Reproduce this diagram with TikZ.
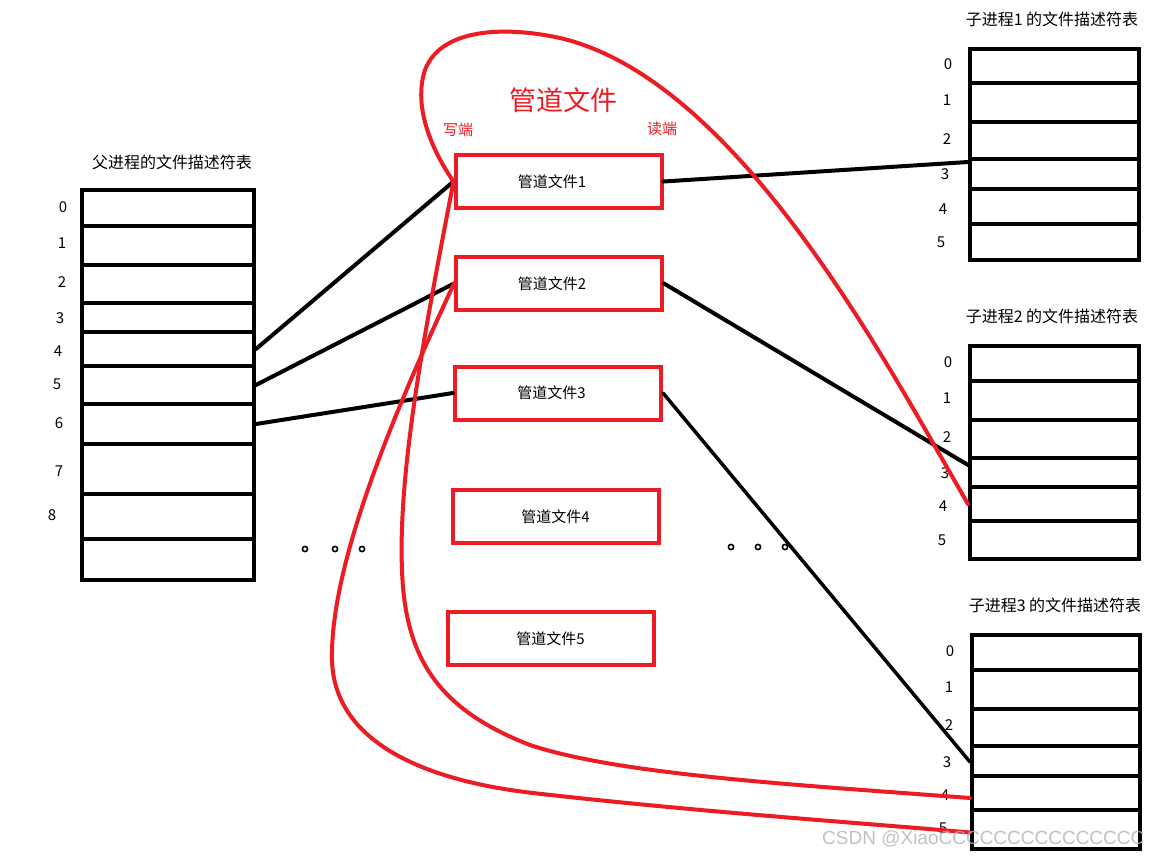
\documentclass[tikz,border=0pt]{standalone}
\usepackage{fontspec}
\newfontfamily\cjk{Noto Sans CJK SC}
\definecolor{pred}{HTML}{ED1C24}
\newcommand\fdrow[5]{\node[cell, minimum width=#5, minimum height=#4-#3] (#1) at (#2,#3) {};}
\begin{document}
\begin{tikzpicture}[x=1pt,y=-1pt,
  cell/.style={draw=black, line width=4pt, inner sep=0pt, anchor=north west},
  pipebox/.style={draw=pred, line width=4pt, minimum width=206pt, minimum height=53pt, inner sep=0pt, font=\cjk\fontsize{15}{18}\selectfont},
  numlbl/.style={font=\cjk\fontsize{15}{18}\selectfont, inner sep=0pt},
  ttl/.style={font=\cjk\fontsize{16}{19}\selectfont, inner sep=0pt},
  redlbl/.style={font=\cjk\fontsize{15}{18}\selectfont, inner sep=0pt, text=pred},
  wire/.style={line width=4pt, black, line cap=round},
  redwire/.style={line width=4pt, pred, line cap=round},
  dotmark/.style={draw=black, line width=1.6pt}]
\useasboundingbox (0,0) rectangle (1160,860);
\fill[white] (0,0) rectangle (1160,860);

% parent table
\node[ttl] (ptitle) at (172,162) {父进程的文件描述符表};
\fdrow{p0}{80}{188}{224}{172}
\fdrow{p1}{80}{224}{263}{172}
\fdrow{p2}{80}{263}{301}{172}
\fdrow{p3}{80}{301}{330}{172}
\fdrow{p4}{80}{330}{364}{172}
\fdrow{p5}{80}{364}{402}{172}
\fdrow{p6}{80}{402}{442}{172}
\fdrow{p7}{80}{442}{492}{172}
\fdrow{p8}{80}{492}{537}{172}
\fdrow{p9}{80}{537}{578}{172}
\node[numlbl] (pl0) at (63,207) {0};
\node[numlbl] (pl1) at (62,243) {1};
\node[numlbl] (pl2) at (62,282) {2};
\node[numlbl] (pl3) at (60,318) {3};
\node[numlbl] (pl4) at (58,351) {4};
\node[numlbl] (pl5) at (57,384) {5};
\node[numlbl] (pl6) at (59,423) {6};
\node[numlbl] (pl7) at (59,471) {7};
\node[numlbl] (pl8) at (52,515) {8};

% child 1
\node[ttl] (c1title) at (1052,19) {子进程1 的文件描述符表};
\fdrow{c1r0}{968}{47}{81}{169}
\fdrow{c1r1}{968}{81}{120}{169}
\fdrow{c1r2}{968}{120}{157}{169}
\fdrow{c1r3}{968}{157}{187}{169}
\fdrow{c1r4}{968}{187}{222}{169}
\fdrow{c1r5}{968}{222}{258}{169}
\node[numlbl] (c1l0) at (948,64) {0};
\node[numlbl] (c1l1) at (947,100) {1};
\node[numlbl] (c1l2) at (947,139) {2};
\node[numlbl] (c1l3) at (945,174) {3};
\node[numlbl] (c1l4) at (943,209) {4};
\node[numlbl] (c1l5) at (941,242) {5};

% child 2
\node[ttl] (c2title) at (1052,316) {子进程2 的文件描述符表};
\fdrow{c2r0}{968}{344}{379}{169}
\fdrow{c2r1}{968}{379}{418}{169}
\fdrow{c2r2}{968}{418}{456}{169}
\fdrow{c2r3}{968}{456}{485}{169}
\fdrow{c2r4}{968}{485}{519}{169}
\fdrow{c2r5}{968}{519}{557}{169}
\node[numlbl] (c2l0) at (948,362) {0};
\node[numlbl] (c2l1) at (947,398) {1};
\node[numlbl] (c2l2) at (947,437) {2};
\node[numlbl] (c2l3) at (945,473) {3};
\node[numlbl] (c2l4) at (943,506) {4};
\node[numlbl] (c2l5) at (942,540) {5};

% child 3
\node[ttl] (c3title) at (1055,605) {子进程3 的文件描述符表};
\fdrow{c3r0}{970}{633}{668}{168}
\fdrow{c3r1}{970}{668}{707}{168}
\fdrow{c3r2}{970}{707}{744}{168}
\fdrow{c3r3}{970}{744}{774}{168}
\fdrow{c3r4}{970}{774}{808}{168}
\fdrow{c3r5}{970}{808}{847}{168}
\node[numlbl] (c3l0) at (950,651) {0};
\node[numlbl] (c3l1) at (949,687) {1};
\node[numlbl] (c3l2) at (949,725) {2};
\node[numlbl] (c3l3) at (947,762) {3};
\node[numlbl] (c3l4) at (945,795) {4};
\node[numlbl] (c3l5) at (943,828) {5};

% pipes
\node[redlbl, font=\cjk\fontsize{27}{32}\selectfont] (ptitleb) at (563,100) {管道文件};
\node[redlbl] (wend) at (458,130) {写端};
\node[redlbl] (rend) at (662,129) {读端};
\node[pipebox] (pipe1) at (558.5,181.5) {\hspace*{-13pt}管道文件1};
\node[pipebox] (pipe2) at (559,283.5) {\hspace*{-14pt}管道文件2};
\node[pipebox] (pipe3) at (558,393) {\hspace*{-13pt}管道文件3};
\node[pipebox] (pipe4) at (555.5,516.5) {管道文件4};
\node[pipebox] (pipe5) at (550.5,638.5) {管道文件5};

% dots
\foreach \dx in {305,335,362} {\draw[dotmark] (\dx,549) circle (2.6);}
\foreach \dx in {731,758,785} {\draw[dotmark] (\dx,547) circle (2.6);}

% black connectors
\draw[wire] (p4.east) -- (pipe1.west);
\draw[wire] (p5.east) -- (pipe2.west);
\draw[wire] (p6.east) -- (pipe3.west);
\draw[wire] (pipe1.east) -- ([yshift=-5pt]c1r3.north west);
\draw[wire] (pipe2.east) -- ([yshift=-9pt]c2r3.north west);
\draw[wire, line width=3.5pt] (pipe3.east) -- ([yshift=-1pt]c3r3.west);

% red curves
\draw[redwire] (pipe1.west) .. controls (425,140) and (415,100) .. (425,70)
  .. controls (440,30) and (500,25) .. (560,38)
  .. controls (740,80) and (890,370) .. (c2r4.west);
\draw[redwire] (pipe1.west) .. controls (425,330) and (398,470) .. (402,570)
  .. controls (405,660) and (440,710) .. (530,745)
  .. controls (620,775) and (800,785) .. ([yshift=-5pt]c3r4.west);
\draw[redwire] (pipe2.west) .. controls (400,400) and (330,560) .. (332,660)
  .. controls (334,740) and (420,780) .. (533,793)
  .. controls (700,812) and (850,822) .. ([yshift=-3pt]c3r5.west);

% watermark
\node[anchor=west, inner sep=0pt, text=black!30, opacity=0.8, font=\fontspec{Liberation Sans}\fontsize{19}{22}\selectfont] (wm) at (822,839) {CSDN @XiaoCCCCCCCCCCCCCCC};
\end{tikzpicture}
\end{document}
